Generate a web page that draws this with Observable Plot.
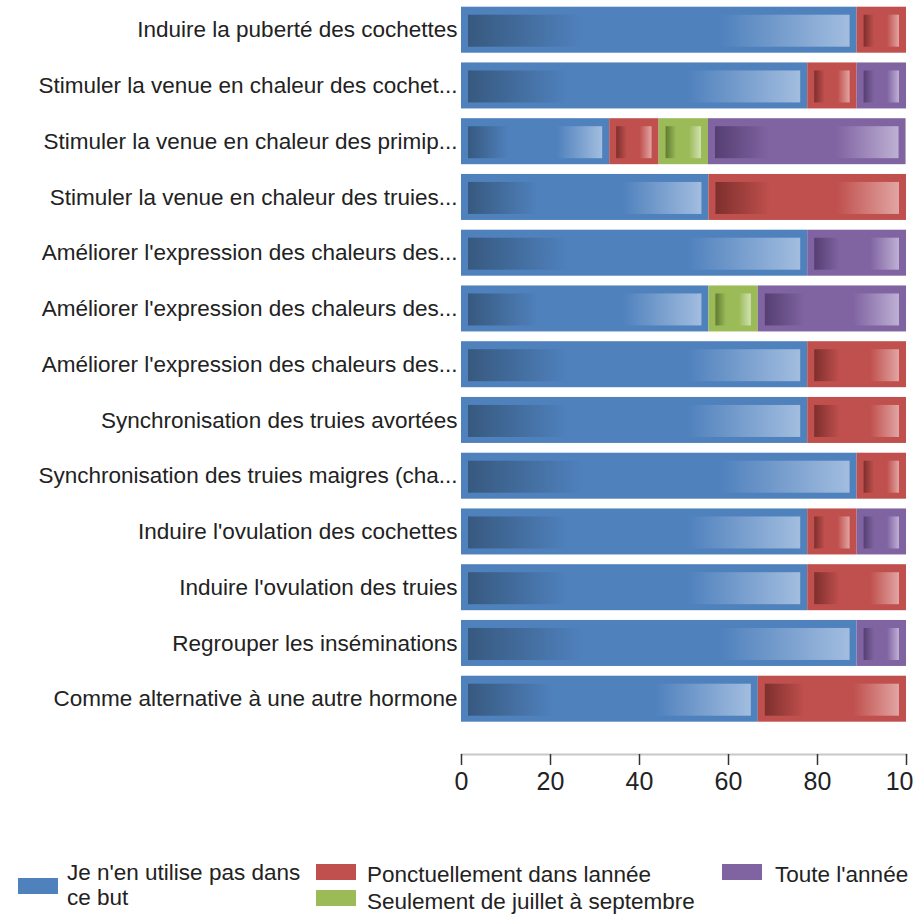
<!DOCTYPE html>
<html>
<head>
<meta charset="utf-8">
<script src="https://cdn.jsdelivr.net/npm/d3@7"></script>
<script src="https://cdn.jsdelivr.net/npm/@observablehq/plot@0.6"></script>
<style>
  html, body { margin: 0; padding: 0; background: #fff; }
  body { width: 914px; height: 916px; overflow: hidden; font-family: "Liberation Sans", Arial, sans-serif; }
  #legend { position: relative; width: 914px; height: 100px; color: #222; font-size: 22.5px; }
  #legend .sw { position: absolute; width: 40px; height: 16px; }
  #legend .tx { position: absolute; line-height: 25px; white-space: nowrap; }
</style>
</head>
<body>
<div id="chart"></div>
<div id="legend"></div>
<script>
const categories = [
  "Induire la puberté des cochettes",
  "Stimuler la venue en chaleur des cochet...",
  "Stimuler la venue en chaleur des primip...",
  "Stimuler la venue en chaleur des truies...",
  "Améliorer l'expression des chaleurs des...",
  "Améliorer l'expression des chaleurs des... ",
  "Améliorer l'expression des chaleurs des...  ",
  "Synchronisation des truies avortées",
  "Synchronisation des truies maigres (cha...",
  "Induire l'ovulation des cochettes",
  "Induire l'ovulation des truies",
  "Regrouper les inséminations",
  "Comme alternative à une autre hormone"
];
const seriesNames = [
  "Je n'en utilise pas dans ce but",
  "Ponctuellement dans lannée",
  "Seulement de juillet à septembre",
  "Toute l'année"
];
const pasDansCeBut     = [88.9, 77.8, 33.3, 55.6, 77.8, 55.6, 77.8, 77.8, 88.9, 77.8, 77.8, 88.9, 66.7];
const ponctuellement   = [11.1, 11.1, 11.1, 44.4,  0,    0,   22.2, 22.2, 11.1, 11.1, 22.2,  0,   33.3];
const juilletSeptembre = [ 0,    0,   11.1,  0,    0,   11.1,  0,    0,    0,    0,    0,    0,    0  ];
const touteLAnnee      = [ 0,   11.1, 44.4,  0,   22.2, 33.3,  0,    0,    0,   11.1,  0,   11.1,  0  ];
const xTicks = [0, 20, 40, 60, 80, 100];

const baseColors = ["#4f81bd", "#c0504d", "#9bbb59", "#8064a2"];
const darkColors = ["#37597f", "#7e2f2d", "#5f7a30", "#553f72"];
const lightColors = ["#a2bddf", "#e1a5a3", "#d1e1b2", "#beb0d4"];

const seriesValues = [pasDansCeBut, ponctuellement, juilletSeptembre, touteLAnnee];
const data = categories.flatMap((c, i) =>
  seriesValues.map((vals, j) => ({category: c, serie: j, value: vals[i]}))
).filter(d => d.value > 0);

const plot = Plot.plot({
  width: 914,
  height: 816,
  marginLeft: 461,
  marginRight: 8,
  marginTop: 0,
  marginBottom: 62,
  style: {fontFamily: "'Liberation Sans', Arial, sans-serif", background: "white", color: "#222"},
  x: {domain: [0, 100], ticks: xTicks, label: null},
  y: {domain: categories, range: [6.7, 721.7], paddingInner: 0.175, paddingOuter: 0, round: false, axis: null, label: null},
  color: {type: "identity"},
  marks: [
    Plot.barX(data, Plot.stackX({x: "value", y: "category", fill: d => baseColors[d.serie]})),
    Plot.barX(data, Plot.stackX({
      x: "value", y: "category",
      fill: d => `url(#grad${d.serie})`,
      insetLeft: 7, insetRight: 7, insetTop: 8, insetBottom: 6
    })),
    Plot.axisY({tickSize: 0, tickPadding: 4, fontSize: 22.5, fill: "#222", label: null, tickFormat: d => d.trim()}),
    Plot.frame({anchor: "bottom", stroke: "#c8c8c8", strokeWidth: 2}),
    Plot.axisX({ticks: xTicks, tickSize: 11, tickPadding: 7, fontSize: 25, stroke: "#333", strokeWidth: 1.5, fill: "#222", label: null, tickFormat: d => String(d)})
  ]
});

const svg = d3.select(plot);
const defs = svg.insert("defs", ":first-child");
baseColors.forEach((c, j) => {
  const g = defs.append("linearGradient").attr("id", `grad${j}`)
    .attr("x1", "0").attr("y1", "0").attr("x2", "1").attr("y2", "0");
  g.append("stop").attr("offset", "0").attr("stop-color", darkColors[j]);
  g.append("stop").attr("offset", "0.3").attr("stop-color", c);
  g.append("stop").attr("offset", "0.66").attr("stop-color", c);
  g.append("stop").attr("offset", "1").attr("stop-color", lightColors[j]);
});

document.getElementById("chart").appendChild(plot);

// Legend (HTML, below the SVG)
const legend = d3.select("#legend");
const legendItems = [
  {serie: 0, sx: 18, sy: 62, tx: 67, ty: 44, text: ["Je n'en utilise pas dans", "ce but"]},
  {serie: 1, sx: 316, sy: 48, tx: 367, ty: 46, text: [seriesNames[1]]},
  {serie: 2, sx: 316, sy: 74, tx: 367, ty: 73, text: [seriesNames[2]]},
  {serie: 3, sx: 722, sy: 48, tx: 775, ty: 46, text: [seriesNames[3]]}
];
legendItems.forEach(it => {
  legend.append("div").attr("class", "sw")
    .style("left", it.sx + "px").style("top", it.sy + "px")
    .style("background", baseColors[it.serie]);
  legend.append("div").attr("class", "tx")
    .style("left", it.tx + "px").style("top", it.ty + "px")
    .html(it.text.join("<br>"));
});
</script>
</body>
</html>
